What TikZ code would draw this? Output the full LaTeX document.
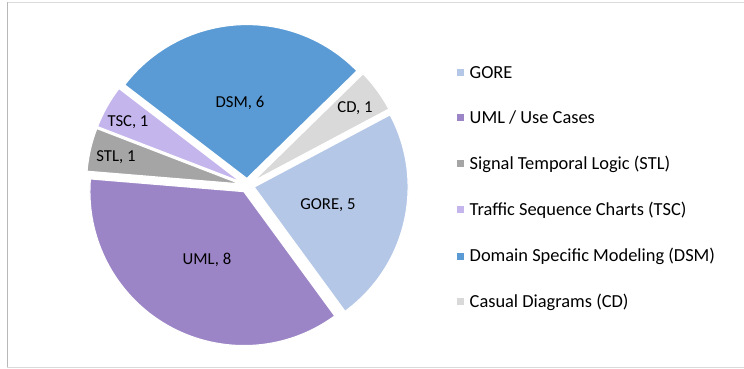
\documentclass[tikz,border=0pt]{standalone}
\usepackage{fontspec}
\setmainfont{Carlito}
\usetikzlibrary{calc}

\definecolor{cGORE}{HTML}{B4C7E7}
\definecolor{cUML}{HTML}{9C85C6}
\definecolor{cSTL}{HTML}{A5A5A5}
\definecolor{cTSC}{HTML}{C4B5EC}
\definecolor{cDSM}{HTML}{5B9BD5}
\definecolor{cCD}{HTML}{D9D9D9}
\definecolor{frameA}{HTML}{DADADA}
\definecolor{frameB}{HTML}{B8B8B8}

\tikzset{
  slice/.style={draw=white, line width=1.2pt, line join=round},
  slicelabel/.style={font=\fontsize{16.7}{18}\selectfont, text=black, inner sep=0pt},
  legendtext/.style={font=\fontsize{18.4}{20}\selectfont, text=black, anchor=west, inner sep=0pt},
  legendkey/.style={minimum size=7pt, inner sep=0pt, outer sep=0pt}
}

\begin{document}
\begin{tikzpicture}[x=1pt, y=1pt]
  \useasboundingbox (0,0) rectangle (744,369);

  % chart frame
  \draw[frameA, line width=1pt] (7.3,366.7) -- (744,366.7);
  \draw[frameA, line width=1pt] (7.3,1.5) -- (744,1.5);
  \draw[frameB, line width=1.2pt] (7.3,1.5) -- (7.3,366.7);

  % pie: centre, radius, explosion offset
  \coordinate (C) at (247.3,183.5);
  \def\R{154}
  \def\D{7}

  % slices: colour / start angle / end angle (clockwise from 28 deg, 22 items)
  \foreach \col/\a/\b in {cGORE/28/-53.818, cUML/-53.818/-184.727,
                          cSTL/-184.727/-201.091, cTSC/-201.091/-217.455,
                          cDSM/-217.455/-315.636, cCD/-315.636/-332}{
    \pgfmathsetmacro{\mid}{(\a+\b)/2}
    \fill[\col, slice] ($(C)+(\mid:\D)$) -- ++(\a:\R)
      arc[start angle=\a, end angle=\b, radius=\R] -- cycle;
  }

  % data labels
  \node[slicelabel] (lGORE) at (328,164) {GORE, 5};
  \node[slicelabel] (lUML)  at (207,109) {UML, 8};
  \node[slicelabel] (lSTL)  at (116,212) {STL, 1};
  \node[slicelabel] (lTSC)  at (128,247) {TSC, 1};
  \node[slicelabel] (lDSM)  at (240,266) {DSM, 6};
  \node[slicelabel] (lCD)   at (355,261) {CD, 1};

  % legend
  \foreach \i/\col/\txt/\yy in {1/cGORE/{GORE}/296.3,
                                2/cUML/{UML / Use Cases}/251,
                                3/cSTL/{Signal Temporal Logic (STL)}/205,
                                4/cTSC/{Traffic Sequence Charts (TSC)}/159,
                                5/cDSM/{Domain Specific Modeling (DSM)}/112.5,
                                6/cCD/{Casual Diagrams (CD)}/67}{
    \node[legendkey, fill=\col] (key\i) at (460.5,\yy) {};
    \node[legendtext] (leg\i) at (469.5,\yy) {\txt};
  }
\end{tikzpicture}
\end{document}
